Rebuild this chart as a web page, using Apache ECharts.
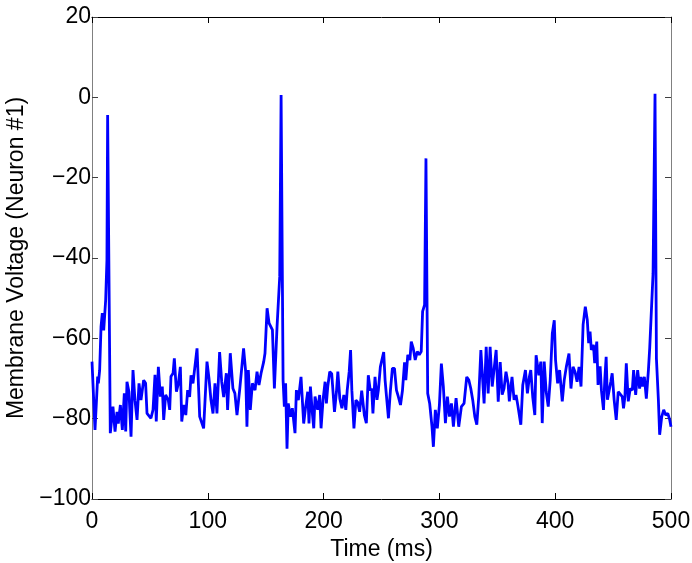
<!DOCTYPE html>
<html>
<head>
<meta charset="utf-8">
<style>
    html, body { margin: 0; padding: 0; background: #fff; }
    #chart { width: 692px; height: 563px; }
</style>
<script src="https://cdn.jsdelivr.net/npm/echarts@6/dist/echarts.min.js"></script>
</head>
<body>
<div id="chart"></div>
<script>
// time (ms) and membrane voltage (mV)
var timeMs = [
    0, 2.6, 4.9, 5.5, 6.6, 7.8, 8.9, 10.1, 11.8, 12.9, 13.5, 15.8,
    18.1, 19.9, 21.6, 22.7, 24.5, 26.2, 27.9, 29.1, 30.2, 31.9, 33.7, 35.4,
    37.1, 38.9, 40.6, 42.3, 44.6, 46.3, 47.5, 49.2, 50.9, 52.7, 54.4, 55.5,
    57.3, 59.0, 60.7, 61.9, 63.6, 65.9, 67.1, 68.2, 70.0, 71.1, 72.9, 74.6,
    76.3, 77.5, 79.2, 81.0, 82.6, 84.3, 85.5, 87.2, 90.7, 93.0, 94.7, 96.4,
    99.3, 101.0, 102.7, 104.5, 106.2, 107.9, 110.2, 112.0, 113.7, 116.0, 117.1, 119.4,
    121.7, 123.4, 125.2, 127.5, 130.9, 132.7, 133.8, 135.0, 136.7, 138.5, 140.8, 142.5,
    144.2, 146.0, 148.3, 149.4, 151.2, 152.9, 154.6, 155.8, 157.5, 159.8, 162.1, 163.3,
    165.0, 166.1, 167.2, 168.4, 169.5, 171.3, 173.0, 175.3, 176.5, 178.2, 180.5, 182.8,
    184.5, 186.3, 187.4, 188.6, 190.3, 191.5, 192.6, 194.9, 196.6, 197.8, 199.5, 201.3,
    202.4, 203.6, 205.3, 207.0, 209.4, 211.1, 212.3, 214.0, 215.8, 217.5, 219.2, 220.4,
    222.1, 223.3, 224.4, 226.2, 227.9, 229.4, 231.1, 232.9, 235.2, 236.9, 238.6, 240.3,
    241.5, 242.6, 244.4, 246.1, 247.3, 249.0, 250.2, 251.9, 253.1, 254.2, 256.0, 257.7,
    259.4, 261.2, 262.9, 264.6, 266.4, 268.1, 269.9, 271.0, 272.7, 274.5, 275.7, 277.4,
    279.1, 280.9, 282.6, 284.3, 285.5, 287.2, 288.4, 289.9, 291.6, 293.6, 294.8, 296.5,
    298.2, 300.0, 301.7, 303.4, 305.2, 306.9, 308.7, 310.4, 312.1, 314.4, 316.7, 319.0,
    321.3, 323.6, 325.4, 327.1, 328.8, 330.6, 332.3, 334.0, 335.8, 336.9, 338.6, 340.4,
    342.1, 343.8, 345.6, 347.3, 349.0, 350.8, 352.5, 354.2, 355.8, 357.5, 359.3, 360.4,
    362.7, 364.5, 366.2, 367.9, 370.3, 372.0, 374.3, 376.0, 377.7, 378.9, 380.6, 382.4,
    383.5, 385.9, 387.6, 388.8, 390.5, 392.2, 394.0, 395.7, 397.5, 399.2, 400.3, 402.1,
    403.8, 406.1, 407.8, 409.6, 411.9, 413.6, 415.4, 417.1, 418.9, 420.6, 422.3, 424.1,
    426.0, 427.7, 428.9, 430.1, 431.2, 433.0, 434.1, 435.9, 437.0, 438.8, 439.9, 441.7,
    442.8, 444.0, 445.1, 446.3, 448.0, 449.2, 450.9, 452.7, 454.4, 456.1, 457.9, 459.0,
    460.2, 461.4, 463.1, 464.8, 466.6, 467.7, 469.5, 471.2, 472.9, 474.1, 475.3, 477.0,
    478.7, 480.5, 481.6, 483.3, 484.5, 486.2, 487.4, 489.1, 490.2, 492.0, 493.7, 495.4,
    497.2, 498.9, 500.0
];
var voltageMv = [
    -65.8, -82.8, -69.5, -71.2, -68, -57.1, -53.7, -58, -50.5, -40.5, -4.4, -83.6,
    -77, -83.2, -78.3, -81.2, -76.6, -82.8, -73.7, -83.2, -70.8, -73.3, -84.5, -67.9,
    -75.4, -80.3, -71.2, -75.4, -70.4, -71.2, -78.7, -78.7, -79.9, -77.8, -69.1, -80.7,
    -67.1, -74.5, -72.0, -80.3, -74.1, -75.4, -77.8, -69.5, -68.7, -65.0, -73.3, -71.2,
    -67.1, -80.7, -76.6, -79.1, -72.9, -74.6, -69.2, -71.2, -62.5, -79.5, -79.1, -82.4,
    -65.8, -69.9, -75.3, -78.7, -71.2, -78.7, -63.4, -70.8, -74.6, -68.7, -77.8, -63.7,
    -72.5, -73.7, -79.1, -72.9, -62.5, -68.3, -82.0, -67.9, -77.8, -71.2, -72.9, -68.3,
    -71.6, -68.7, -65.8, -63.7, -52.5, -56.2, -56.6, -57.9, -72.5, -57.1, -44.7, 0.6,
    -70.4, -77.0, -71.2, -87.5, -76.2, -79.5, -77.4, -83.6, -72.9, -75.4, -69.6, -81.2,
    -77.0, -73.3, -81.2, -72.0, -78.7, -82.4, -74.5, -77.8, -74.1, -82.4, -75.4, -70.8,
    -76.2, -72.0, -68.3, -68.8, -78.3, -73.3, -68.3, -75.0, -77.4, -74.1, -77.8, -72.9,
    -68.3, -62.9, -72.9, -82.4, -75.4, -75.9, -78.3, -73.0, -79.1, -81.1, -69.2, -73.0,
    -72.5, -78.7, -69.6, -75.3, -72.9, -67.1, -66.7, -63.4, -70.4, -74.1, -79.9, -73.0,
    -67.5, -67.5, -72.9, -74.6, -76.6, -73.0, -66.0, -70.4, -64.1, -65.4, -60.8, -62.5,
    -65.4, -63.3, -64.1, -63.3, -53.3, -51.7, -15.2, -73.7, -76.2, -82.0, -87.0, -77.8,
    -82.4, -76.6, -66.3, -72.0, -81.1, -74.5, -79.5, -76.2, -82.0, -74.9, -82.0, -77.0,
    -76.2, -69.6, -70.4, -72.5, -75.4, -79.5, -81.5, -74.5, -62.9, -62.5, -76.2, -62.1,
    -73.7, -62.1, -72.0, -72.0, -62.9, -75.8, -65.9, -74.0, -72.5, -68.3, -71.2, -75.7,
    -69.6, -75.3, -74.1, -77.0, -81.5, -71.6, -67.9, -73.7, -69.6, -67.9, -74.6, -79.1,
    -64.2, -69.2, -65.8, -81.1, -65.8, -73.3, -77.0, -70.4, -58.8, -55.5, -65.4, -71.2,
    -67.9, -75.7, -70.4, -67.1, -63.8, -72.5, -67.1, -68.3, -70.8, -67.1, -72.0, -56.6,
    -52.1, -55.4, -61.2, -58.3, -62.9, -61.6, -66.2, -60.8, -71.6, -67.0, -72.9, -77.8,
    -70.4, -64.6, -75.3, -75.7, -70.8, -68.7, -75.3, -80.3, -73.3, -72.9, -74.5, -77.4,
    -74.5, -66.2, -75.7, -72.5, -72.9, -67.9, -74.1, -67.9, -72.5, -69.6, -72.0, -69.6,
    -75.0, -67.9, -62.5, -62.1, -43.9, 0.9, -65.0, -75.3, -84.0, -79.5, -77.8, -79.1,
    -78.7, -80.3, -82.0
];
var xTicks = { min: 0, max: 500, step: 100 };
var yTicks = { min: -100, max: 20, step: 20 };

var chart = echarts.init(document.getElementById('chart'));

var seriesData = [];
for (var i = 0; i < timeMs.length; i++) {
    seriesData.push([timeMs[i], voltageMv[i]]);
}

var fontName = '"Liberation Sans", Arial, sans-serif';
var fontSize = 23;
// matlab style minus sign
function minusFmt(v) {
    return v < 0 ? '\u2212' + Math.abs(v) : String(v);
}

function makeX(pos, main) {
    return {
        type: 'value',
        position: pos,
        min: xTicks.min,
        max: xTicks.max,
        interval: xTicks.step,
        name: main ? 'Time (ms)' : '',
        nameLocation: 'middle',
        nameGap: 35,
        nameTextStyle: { fontFamily: fontName, fontSize: fontSize, color: '#000' },
        axisLine: { show: true, onZero: false, lineStyle: { color: '#000', width: 1 } },
        axisTick: { show: true, inside: true, length: 6, lineStyle: { color: '#000' } },
        axisLabel: {
            show: main,
            margin: 11,
            fontFamily: fontName,
            fontSize: fontSize,
            color: '#000',
            formatter: minusFmt
        },
        splitLine: { show: false }
    };
}

function makeY(pos, main) {
    return {
        type: 'value',
        position: pos,
        min: yTicks.min,
        max: yTicks.max,
        interval: yTicks.step,
        name: main ? 'Membrane Voltage (Neuron #1)' : '',
        nameLocation: 'middle',
        nameGap: 61,
        nameTextStyle: { fontFamily: fontName, fontSize: fontSize, color: '#000' },
        axisLine: { show: true, onZero: false, lineStyle: { color: '#808080', width: 1 } },
        axisTick: { show: true, inside: true, length: 6, lineStyle: { color: '#404040' } },
        axisLabel: {
            show: main,
            margin: 1,
            fontFamily: fontName,
            fontSize: fontSize,
            color: '#000',
            formatter: minusFmt
        },
        splitLine: { show: false }
    };
}

var option = {
    animation: false,
    backgroundColor: '#fff',
    grid: {
        left: 92, right: 21, top: 17, bottom: 64,
        containLabel: false,
        outerBoundsMode: 'none'
    },
    xAxis: [makeX('bottom', true), makeX('top', false)],
    yAxis: [makeY('left', true), makeY('right', false)],
    series: [{
        type: 'line',
        xAxisIndex: 0,
        yAxisIndex: 0,
        data: seriesData,
        showSymbol: false,
        symbol: 'none',
        lineStyle: { color: '#0000ff', width: 2.8 },
        clip: true
    }]
};

chart.setOption(option);
</script>
</body>
</html>
